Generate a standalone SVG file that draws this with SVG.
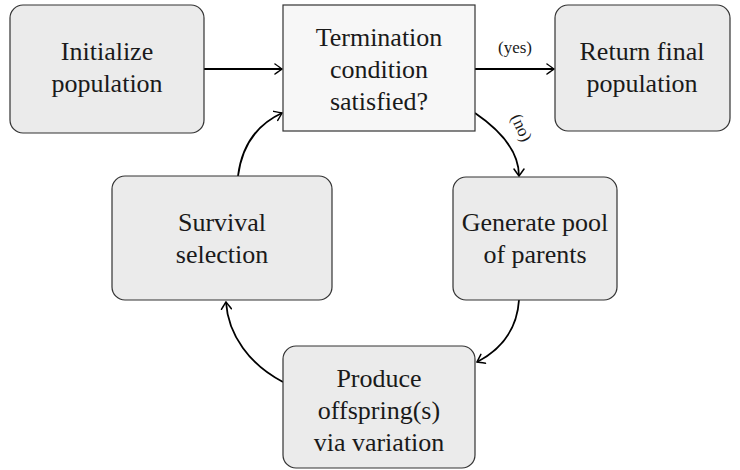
<svg xmlns="http://www.w3.org/2000/svg" width="740" height="470" viewBox="0 0 740 470">
<defs>
<style>
.box{fill:#ebebeb;stroke:#333;stroke-width:1.2}
.term{fill:#f7f7f7;stroke:#333;stroke-width:1.2}
.t{font-family:Liberation Serif, DejaVu Serif, serif;font-size:26px;fill:#1a1a1a;text-anchor:middle}
.lbl{font-family:Liberation Serif, DejaVu Serif, serif;font-size:17px;fill:#1a1a1a;text-anchor:middle}
.c{fill:none;stroke:#000;stroke-width:1.8;marker-end:url(#arr)}
</style>
<marker id="arr" viewBox="-8 -6 10 12" markerWidth="10" markerHeight="12" refX="0" refY="0" orient="auto" markerUnits="userSpaceOnUse">
<path d="M -7 -5 Q -2 -1.5 0 0 Q -2 1.5 -7 5" fill="none" stroke="#000" stroke-width="1.5" stroke-linecap="round"/>
</marker>
</defs>
<rect width="740" height="470" fill="#fff"/>
<g font-family="Liberation Serif">
<g id="connectors">
<path class="c" d="M 204 69 L 282 69"/>
<path class="c" d="M 475 69 L 554 69"/>
<path class="c" d="M 475 113 C 497 128 519 150 519 176"/>
<path class="c" d="M 519 300 C 517 330 500 350 477 362"/>
<path class="c" d="M 283 382 C 250 365 228 335 226 302"/>
<path class="c" d="M 238 176 C 242 145 258 124 282 113"/>
<text class="lbl" x="515" y="53">(yes)</text>
<text class="lbl" transform="translate(521 128) rotate(65)" y="5">(no)</text>
</g>
<g id="init">
<rect class="box" x="10" y="5" width="194" height="128" rx="13"/>
<text class="t" x="107" y="60">Initialize</text>
<text class="t" x="107" y="92">population</text>
</g>
<g id="termination">
<rect class="term" x="283" y="5" width="192" height="126"/>
<text class="t" x="379" y="46">Termination</text>
<text class="t" x="379" y="78">condition</text>
<text class="t" x="379" y="110">satisfied?</text>
</g>
<g id="return">
<rect class="box" x="555" y="5" width="175" height="126" rx="13"/>
<text class="t" x="642" y="60">Return final</text>
<text class="t" x="642" y="92">population</text>
</g>
<g id="survival">
<rect class="box" x="112" y="176" width="220" height="124" rx="13"/>
<text class="t" x="222" y="231">Survival</text>
<text class="t" x="222" y="263">selection</text>
</g>
<g id="generate">
<rect class="box" x="453" y="177" width="164" height="123" rx="13"/>
<text class="t" x="535" y="231">Generate pool</text>
<text class="t" x="535" y="263">of parents</text>
</g>
<g id="produce">
<rect class="box" x="283" y="346" width="192" height="122" rx="13"/>
<text class="t" x="379" y="387">Produce</text>
<text class="t" x="379" y="419">offspring(s)</text>
<text class="t" x="379" y="451">via variation</text>
</g>
</g>
</svg>
